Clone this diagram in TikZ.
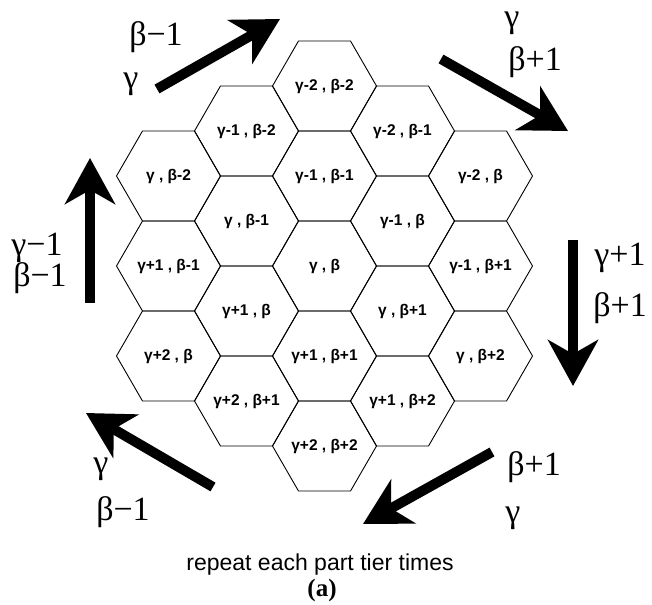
\documentclass[tikz,border=0pt]{standalone}
\usepackage{fontspec}
\setmainfont{Liberation Serif}
\newfontfamily\cellfont{Liberation Sans}
\newfontfamily\notefont{Liberation Sans}
\usetikzlibrary{shapes.geometric,arrows.meta}

\tikzset{
  cell/.style={draw, line width=0.9pt, regular polygon, regular polygon sides=6,
    minimum size=104pt, inner xsep=-30pt, inner ysep=0pt, outer sep=0pt,
    font=\cellfont\bfseries\fontsize{15.5}{17}\selectfont},
  move/.style={line width=10pt, -{Stealth[length=46pt, width=50pt, inset=14pt]}},
  tag/.style={font=\fontsize{34}{36}\selectfont, inner sep=0pt}
}

\begin{document}
\begin{tikzpicture}[x=1pt, y=-1pt]
    \useasboundingbox (0,0) rectangle (652,604);

    % Hexagon cells
    \node[cell] (c11) at (168.5,176) {γ , β-2};
    \node[cell] (c12) at (168.5,266) {γ+1 , β-1};
    \node[cell] (c13) at (168.5,356) {γ+2 , β};
    \node[cell] (c21) at (246.5,131) {γ-1 , β-2};
    \node[cell] (c22) at (246.5,221) {γ , β-1};
    \node[cell] (c23) at (246.5,311) {γ+1 , β};
    \node[cell] (c24) at (246.5,401) {γ+2 , β+1};
    \node[cell] (c31) at (324.5,86)  {γ-2 , β-2};
    \node[cell] (c32) at (324.5,176) {γ-1 , β-1};
    \node[cell] (c33) at (324.5,266) {γ , β};
    \node[cell] (c34) at (324.5,356) {γ+1 , β+1};
    \node[cell] (c35) at (324.5,446) {γ+2 , β+2};
    \node[cell] (c41) at (402.5,131) {γ-2 , β-1};
    \node[cell] (c42) at (402.5,221) {γ-1 , β};
    \node[cell] (c43) at (402.5,311) {γ , β+1};
    \node[cell] (c44) at (402.5,401) {γ+1 , β+2};
    \node[cell] (c51) at (480.5,176) {γ-2 , β};
    \node[cell] (c52) at (480.5,266) {γ-1 , β+1};
    \node[cell] (c53) at (480.5,356) {γ , β+2};

    % Arrow ends
    \coordinate (tlA) at (157,89);  \coordinate (tlB) at (280,19);
    \coordinate (trA) at (441,59);  \coordinate (trB) at (568,131);
    \coordinate (rtA) at (573,240); \coordinate (rtB) at (573,386);
    \coordinate (brA) at (492,452); \coordinate (brB) at (363,524);
    \coordinate (blA) at (213,487); \coordinate (blB) at (86,413);
    \coordinate (lfA) at (90,303);  \coordinate (lfB) at (90,158);

    % Arrows
    \foreach \a/\b in {tlA/tlB, trA/trB, rtA/rtB, brA/brB, blA/blB, lfA/lfB}
        \draw[move] (\a) -- (\b);

    % Arrow labels
    \node[tag] (l1) at (156,37)  {β−1};
    \node[tag] (l2) at (131,84)  {γ};
    \node[tag] (l3) at (512,23)  {γ};
    \node[tag] (l4) at (535,62)  {β+1};
    \node[tag] (l5) at (620,258) {γ+1};
    \node[tag] (l6) at (620,308) {β+1};
    \node[tag] (l7) at (534,467) {β+1};
    \node[tag] (l8) at (513,518) {γ};
    \node[tag] (l9) at (101,469) {γ};
    \node[tag] (l10) at (123,512) {β−1};
    \node[tag] (l11) at (37,248) {γ−1};
    \node[tag] (l12) at (40,278) {β−1};

    % Caption
    \node[font=\notefont\fontsize{23}{25}\selectfont] (note) at (320,565) {repeat each part tier times};
    \node[font=\bfseries\fontsize{25}{27}\selectfont, inner sep=0pt] (cap) at (322,590) {(a)};
\end{tikzpicture}
\end{document}
